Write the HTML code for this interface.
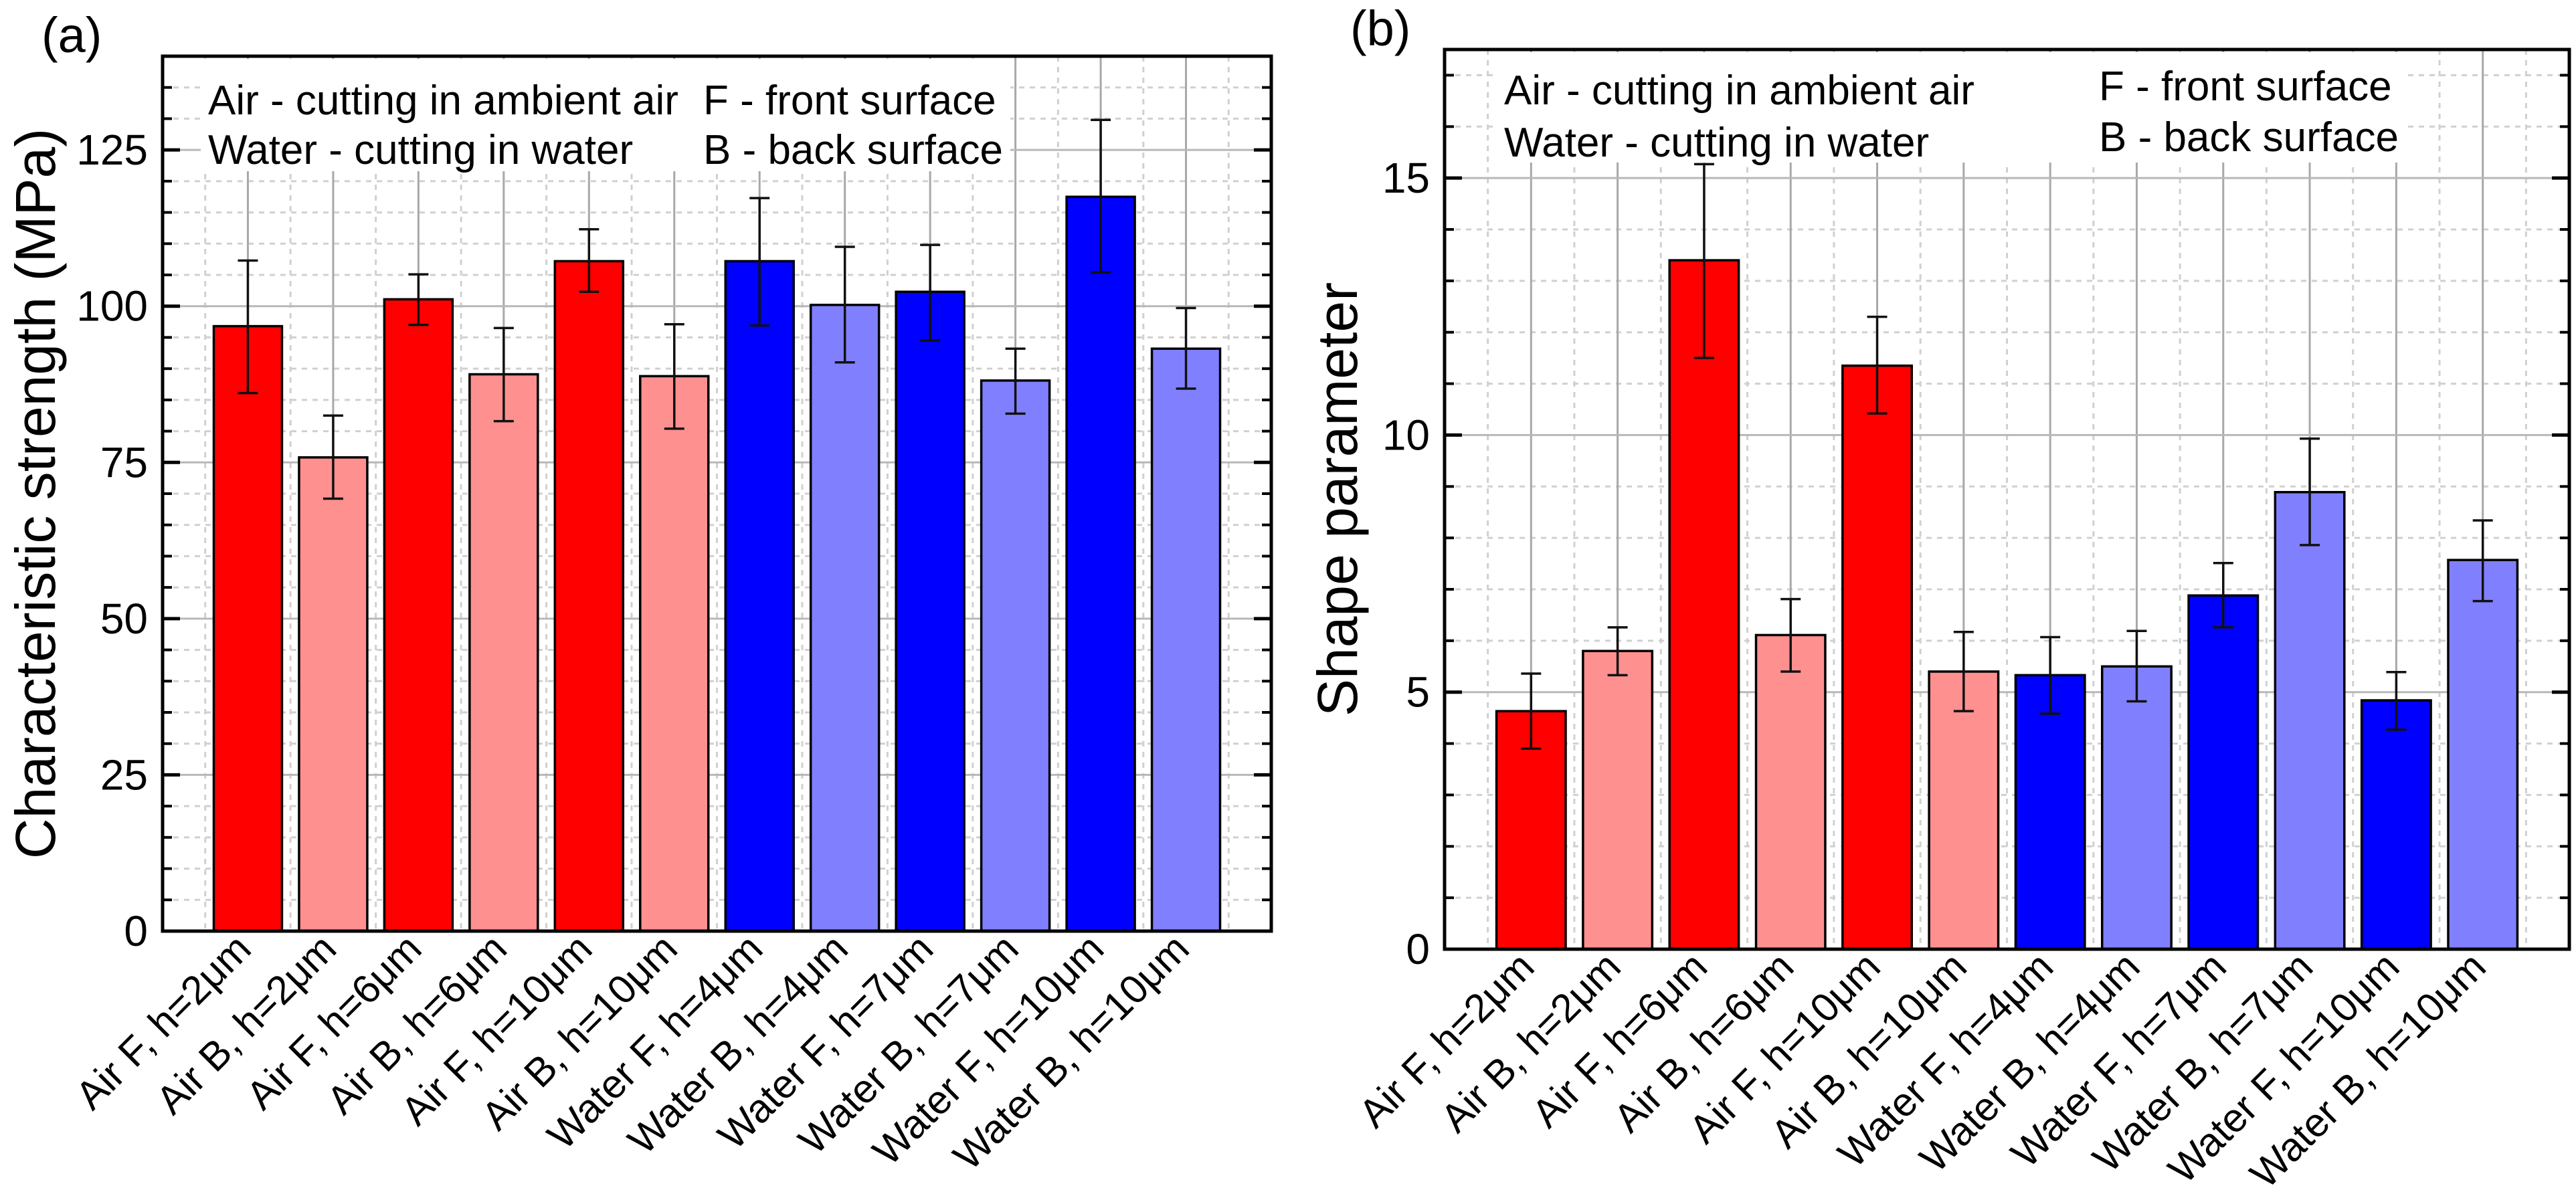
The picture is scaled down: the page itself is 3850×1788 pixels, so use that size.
<!DOCTYPE html>
<html><head><meta charset="utf-8"><style>
html,body{margin:0;padding:0;background:#fff;}
svg{display:block;font-family:"Liberation Sans",Arial,sans-serif;}
</style></head><body>
<svg id="chart" width="3850" height="1788" viewBox="0 0 3850 1788" xmlns="http://www.w3.org/2000/svg"></svg>
<script>
const categories = ["Air F, h=2\u03bcm","Air B, h=2\u03bcm","Air F, h=6\u03bcm","Air B, h=6\u03bcm","Air F, h=10\u03bcm","Air B, h=10\u03bcm","Water F, h=4\u03bcm","Water B, h=4\u03bcm","Water F, h=7\u03bcm","Water B, h=7\u03bcm","Water F, h=10\u03bcm","Water B, h=10\u03bcm"];
const barColors = ["#ff0000","#ff9090","#ff0000","#ff9090","#ff0000","#ff9090","#0000ff","#8080ff","#0000ff","#8080ff","#0000ff","#8080ff"];
const strengthValues = [96.8,75.8,101.1,89.1,107.2,88.8,107.2,100.2,102.3,88.1,117.5,93.2];
const strengthHigh = [107.3,82.5,105.1,96.5,112.3,97.1,117.3,109.5,109.8,93.2,129.8,99.7];
const strengthLow = [86.1,69.2,97.0,81.6,102.3,80.4,96.9,91.0,94.5,82.8,105.4,86.8];
const strengthTicks = [0,25,50,75,100,125];
const shapeValues = [4.63,5.80,13.40,6.11,11.35,5.40,5.33,5.50,6.88,8.89,4.84,7.57];
const shapeHigh = [5.36,6.26,15.27,6.81,12.30,6.17,6.07,6.19,7.51,9.93,5.39,8.34];
const shapeLow = [3.90,5.33,11.50,5.40,10.42,4.63,4.58,4.82,6.26,7.86,4.27,6.77];
const shapeTicks = [0,5,10,15];

const NS = "http://www.w3.org/2000/svg";
const svg = document.getElementById("chart");
function mk(tag, attrs, parent){
  const e = document.createElementNS(NS, tag);
  for (const k in attrs) e.setAttribute(k, attrs[k]);
  (parent||svg).appendChild(e);
  return e;
}

function drawPanel(cfg){
  const g = mk("g", {});
  
  
  const L=cfg.left, R=cfg.right, T=cfg.top, B=cfg.bottom;
  const n = categories.length;
  const xs = i => L + (i+1)*(R-L)/(n+1);
  const slot = (R-L)/(n+1);
  const ys = v => B - v*(B-T)/cfg.ymax;
  for (let v=cfg.minor; v<cfg.ymax; v+=cfg.minor){
    if (Math.abs(v/cfg.major - Math.round(v/cfg.major))<1e-6) continue;
    const l = mk("line",{x1:L,x2:R,y1:ys(v),y2:ys(v),stroke:"#d0d0d0","stroke-width":3,"stroke-dasharray":"8 8"},g);
    
    
    mk("line",{x1:L,x2:L+14,y1:ys(v),y2:ys(v),stroke:"#000","stroke-width":4},g);
    mk("line",{x1:R-14,x2:R,y1:ys(v),y2:ys(v),stroke:"#000","stroke-width":4},g);
  }
  for (let i=0;i<=n;i++){
    const x = L + (i+0.5)*slot;
    const l = mk("line",{x1:x,x2:x,y1:T,y2:B,stroke:"#d0d0d0","stroke-width":3,"stroke-dasharray":"8 8"},g);
    
    
  }
  for (let i=0;i<n;i++){
    const l = mk("line",{x1:xs(i),x2:xs(i),y1:T,y2:B,stroke:"#a8a8a8","stroke-width":3},g);
    
    
  }
  cfg.ticks.forEach(v=>{
    if (v>0){
      const l = mk("line",{x1:L,x2:R,y1:ys(v),y2:ys(v),stroke:"#b8b8b8","stroke-width":3},g);
      
      
    }
    mk("line",{x1:L,x2:L+26,y1:ys(v),y2:ys(v),stroke:"#000","stroke-width":5},g);
    mk("line",{x1:R-26,x2:R,y1:ys(v),y2:ys(v),stroke:"#000","stroke-width":5},g);
    const t = mk("text",{x:L-22,y:ys(v)+22,"text-anchor":"end","font-size":64,fill:"#000"},g);
    t.textContent = v;
    
    
  });
  cfg.legendBoxes.forEach(b=>{
    mk("rect",{x:b[0],y:b[1],width:b[2],height:b[3],fill:"#fff"},g);
  });
  cfg.legend.forEach(lt=>{
    const t = mk("text",{x:lt[0],y:lt[1],"font-size":62,fill:"#000"},g);
    t.textContent = lt[2];
    
    
  });
  const bw = slot*0.8;
  for (let i=0;i<n;i++){
    const r = mk("rect",{x:xs(i)-bw/2,y:ys(cfg.values[i]),width:bw,height:B-ys(cfg.values[i]),fill:barColors[i],stroke:"#000","stroke-width":3.5},g);
    
    
    const eb = mk("g",{stroke:"#111","stroke-width":3.5},g);
    
    
    mk("line",{x1:xs(i),x2:xs(i),y1:ys(cfg.high[i]),y2:ys(cfg.low[i])},eb);
    mk("line",{x1:xs(i)-15,x2:xs(i)+15,y1:ys(cfg.high[i]),y2:ys(cfg.high[i])},eb);
    mk("line",{x1:xs(i)-15,x2:xs(i)+15,y1:ys(cfg.low[i]),y2:ys(cfg.low[i])},eb);
    const t = mk("text",{x:0,y:0,"text-anchor":"end","font-size":60,fill:"#000",transform:`translate(${xs(i)+8},${B+30}) rotate(-45)`},g);
    t.textContent = categories[i];
    
    
  }
  const f = mk("rect",{x:L,y:T,width:R-L,height:B-T,fill:"none",stroke:"#000","stroke-width":5},g);
  
  
  const ty = (T+B)/2;
  const at = mk("text",{x:0,y:0,"text-anchor":"middle","font-size":84,fill:"#000",transform:`translate(${cfg.titleX},${ty}) rotate(-90)`},g);
  at.textContent = cfg.title;
  
  
  const pl = mk("text",{x:cfg.panelX,y:cfg.panelY,"font-size":74,fill:"#000"},g);
  pl.textContent = cfg.panel;
  
  
}

drawPanel({name:"strength-chart",left:243,right:1900,top:84,bottom:1392,ymax:140,major:25,minor:5,ticks:strengthTicks,
  values:strengthValues,high:strengthHigh,low:strengthLow,title:"Characteristic strength (MPa)",titleX:82,panel:"(a)",panelX:62,panelY:78,
  legendBoxes:[[300,88,1210,168]],
  legend:[[311,171,"Air - cutting in ambient air"],[311,245,"Water - cutting in water"],[1051,171,"F - front surface"],[1051,245,"B - back surface"]]});
drawPanel({name:"shape-chart",left:2159,right:3840,top:74,bottom:1419,ymax:17.5,major:5,minor:1,ticks:shapeTicks,
  values:shapeValues,high:shapeHigh,low:shapeLow,title:"Shape parameter",titleX:2028,panel:"(b)",panelX:2018,panelY:68,
  legendBoxes:[[2235,78,1360,165]],
  legend:[[2248,156,"Air - cutting in ambient air"],[2248,234,"Water - cutting in water"],[3137,150,"F - front surface"],[3137,226,"B - back surface"]]});
</script>
</body></html>
